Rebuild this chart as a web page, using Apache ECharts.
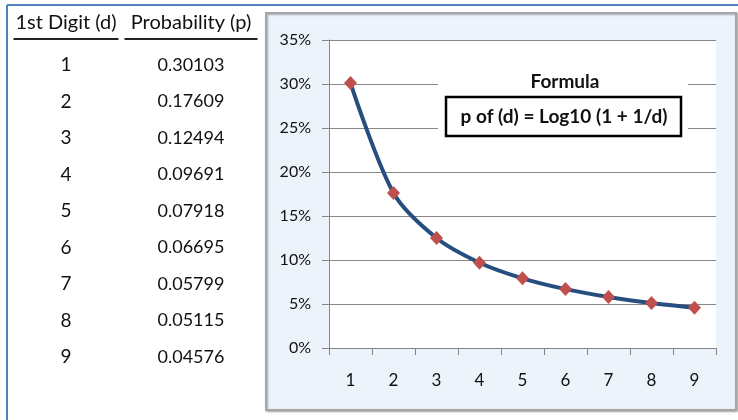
<!DOCTYPE html>
<html><head><meta charset="utf-8">
<script src="https://cdn.jsdelivr.net/npm/echarts@6/dist/echarts.min.js"></script>
<style>html,body{margin:0;padding:0;background:#fff}#c{width:738px;height:420px}</style>
</head><body><div id="c"></div>
<script>
var digits = ['1','2','3','4','5','6','7','8','9'];
var probs = [0.30103, 0.17609, 0.12494, 0.09691, 0.07918, 0.06695, 0.05799, 0.05115, 0.04576];
var probLabels = ['0.30103','0.17609','0.12494','0.09691','0.07918','0.06695','0.05799','0.05115','0.04576'];
var headers = ['1st Digit (d)', 'Probability (p)'];
var formulaTitle = 'Formula';
var formulaText = 'p of (d) = Log10 (1 + 1/d)';

var FONT = '"Lato", "Noto Sans", sans-serif';
var chart = echarts.init(document.getElementById('c'), null, {renderer:'canvas'});

var g = [];
// outer blue frame
g.push({type:'line', shape:{x1:7,y1:5,x2:738,y2:5}, style:{stroke:'#4F81BD', lineWidth:2}, z:0});
g.push({type:'line', shape:{x1:7,y1:5,x2:7,y2:420}, style:{stroke:'#4F81BD', lineWidth:2}, z:0});
// chart box
g.push({type:'rect', shape:{x:266,y:13,width:470,height:397}, style:{fill:'#EDF3FB', stroke:'#A6A6A6', lineWidth:2, shadowBlur:2, shadowOffsetX:1, shadowOffsetY:1, shadowColor:'rgba(0,0,0,0.3)'}, z:-10, silent:true});
// table headers
var hx = [66, 191];
var hw = [105, 133];
headers.forEach(function(h,i){
  g.push({type:'text', x:hx[i], y:23, style:{text:h, fill:'#111', font:'20px '+FONT, textAlign:'center', textVerticalAlign:'middle'}});
  g.push({type:'line', shape:{x1:hx[i]-hw[i]/2, y1:39, x2:hx[i]+hw[i]/2, y2:39}, style:{stroke:'#222', lineWidth:2}});
});
digits.forEach(function(d,i){
  var y = 65 + i*36.5;
  g.push({type:'text', x:66, y:y, style:{text:d, fill:'#111', font:'19px '+FONT, textAlign:'center', textVerticalAlign:'middle'}});
  g.push({type:'text', x:191, y:y, style:{text:probLabels[i], fill:'#111', font:'18px '+FONT, textAlign:'center', textVerticalAlign:'middle'}});
});
// formula
g.push({type:'rect', shape:{x:438,y:68,width:250,height:75}, style:{fill:'#fff'}, z:50});
g.push({type:'text', x:565, y:82, style:{text:formulaTitle, fill:'#111', font:'bold 19px '+FONT, textAlign:'center', textVerticalAlign:'middle'}, z:51});
g.push({type:'rect', shape:{x:446,y:97,width:235,height:39}, style:{fill:'#fff', stroke:'#000', lineWidth:2.5}, z:51});
g.push({type:'text', x:564, y:117, style:{text:formulaText, fill:'#111', font:'bold 19px '+FONT, textAlign:'center', textVerticalAlign:'middle'}, z:52});

chart.setOption({
  animation:false,
  grid:{left:329, top:40, right:22, bottom:72, show:true, backgroundColor:'#fff', borderWidth:0},
  xAxis:{type:'category', data:digits, boundaryGap:true,
    axisLine:{lineStyle:{color:'#868686', width:1}},
    axisTick:{show:true, length:7, alignWithLabel:false, lineStyle:{color:'#868686'}},
    axisLabel:{color:'#111', fontSize:17, fontFamily:FONT, margin:24}},
  yAxis:{type:'value', min:0, max:0.35, interval:0.05,
    axisLine:{show:true, lineStyle:{color:'#868686', width:1}},
    axisTick:{show:true, length:7, lineStyle:{color:'#868686'}},
    splitLine:{lineStyle:{color:'#868686', width:1}},
    axisLabel:{color:'#111', fontSize:16, fontFamily:FONT, margin:18,
      formatter:function(v){return Math.round(v*100)+'%';}}},
  series:[{type:'line', data:probs, smooth:0.3, z:10,
    lineStyle:{color:'#264E7F', width:4},
    symbol:'diamond', symbolSize:[13,14],
    itemStyle:{color:'#C0504D', borderWidth:0}}],
  graphic:g
});
</script></body></html>
